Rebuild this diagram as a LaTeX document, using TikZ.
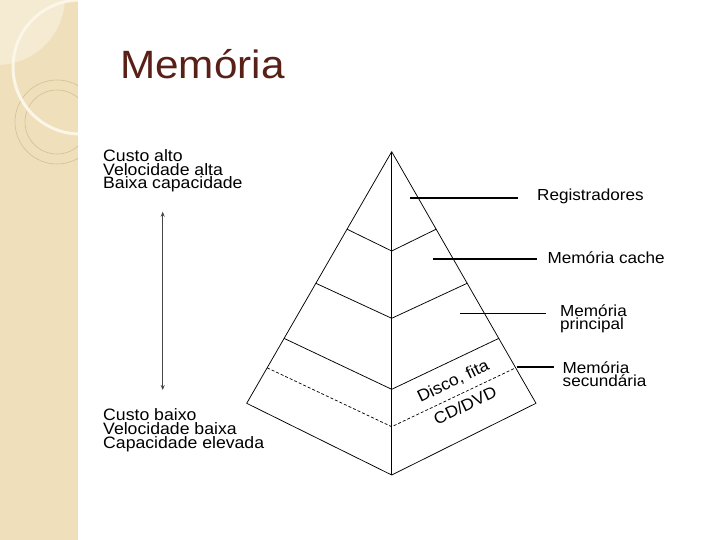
\documentclass[tikz,border=0pt]{standalone}
\usepackage{fontspec}
\setmainfont{Liberation Sans}[FakeStretch=1.07]
\usetikzlibrary{calc,arrows.meta}
\definecolor{stripbg}{RGB}{239,223,186}
\definecolor{stripli}{RGB}{245,234,210}
\definecolor{stripwh}{RGB}{251,246,232}
\definecolor{stripln}{RGB}{214,192,148}
\definecolor{titlec}{RGB}{88,32,22}
\definecolor{arrowc}{RGB}{70,70,70}
\tikzset{
  lbl/.style={inner sep=0pt, anchor=base west, font=\fontsize{16.5}{16.5}\selectfont},
  rlbl/.style={inner sep=0pt, anchor=base west, font=\fontsize{16}{16}\selectfont},
  ttl/.style={inner sep=0pt, anchor=base west, text=titlec, font=\fontsize{39.5}{39.5}\selectfont},
  slant/.style={inner sep=0pt, anchor=center, rotate=25.8, font=\fontsize{16.5}{16.5}\selectfont},
  pyr/.style={line width=0.75pt, line join=round},
  band/.style={line width=0.75pt},
  dband/.style={line width=0.7pt, dash pattern=on 3pt off 2pt},
  ptr/.style={line width=#1},
}
\begin{document}
\begin{tikzpicture}[x=1pt,y=-1pt]
\useasboundingbox (0,0) rectangle (720,540);
\fill[white] (0,0) rectangle (720,540);
% decorative strip
\begin{scope}
  \clip (0,0) rectangle (78,540);
  \fill[stripbg] (0,0) rectangle (78,540);
  \fill[stripli] (-3,-3) circle[radius=68];
  \draw[stripln, line width=0.6pt] (57,122) circle[radius=42];
  \draw[stripln, line width=0.6pt] (57,122) circle[radius=32];
  \draw[stripwh, line width=3pt] (80,67) circle[radius=67];
\end{scope}
% title
\node[ttl] (title) at (120,79) {Memória};
% left labels
\node[lbl] (l1) at (103,161.5) {Custo alto};
\node[lbl] (l2) at (103,175.3) {Velocidade alta};
\node[lbl] (l3) at (103,189) {Baixa capacidade};
\node[lbl] (l4) at (103,420.7) {Custo baixo};
\node[lbl] (l5) at (103,434.5) {Velocidade baixa};
\node[lbl] (l6) at (103,448.3) {Capacidade elevada};
\coordinate (atop) at (162.7,211.7);
\coordinate (abot) at (162.7,390);
\draw[arrowc, line width=1pt, {Stealth[length=5pt,width=4pt]}-{Stealth[length=5pt,width=4pt]}] (atop) -- (abot);
% pyramid
\coordinate (A) at (391.7,151.7);
\coordinate (L) at (246.7,403.3);
\coordinate (R) at (536,403.3);
\coordinate (B) at (391.7,475);
\draw[pyr] (A) -- (L) -- (B) -- (R) -- cycle;
\draw[band] (A) -- (B);
\draw[band] ($(A)!0.308!(L)$) -- (391.7,251) -- ($(A)!0.308!(R)$);
\draw[band] ($(A)!0.523!(L)$) -- (391.7,318.3) -- ($(A)!0.523!(R)$);
\draw[band] ($(A)!0.742!(L)$) -- (391.7,389.3) -- ($(A)!0.742!(R)$);
\draw[dband] ($(A)!0.859!(L)$) -- (391.7,426.7) -- ($(A)!0.859!(R)$);
\node[slant] (disco) at (453.3,381.5) {Disco, fita};
\node[slant] (cddvd) at (465,405.5) {CD/DVD};
% right labels
\node[rlbl] (reg) at (537,201) {Registradores};
\node[rlbl] (cache) at (547.5,263.5) {Memória cache};
\node[rlbl] (mp1) at (560,316.5) {Memória};
\node[rlbl] (mp2) at (560,329.2) {principal};
\node[rlbl] (ms1) at (562.5,373.5) {Memória};
\node[rlbl] (ms2) at (562.5,386.5) {secundária};
\coordinate (p1a) at (410,198.3);  \coordinate (p1b) at (518.3,198.3);
\coordinate (p2a) at (433.3,259);  \coordinate (p2b) at (536.7,259);
\coordinate (p3a) at (460,313.3);  \coordinate (p3b) at (545.7,313.3);
\coordinate (p4a) at (516.7,367.3);\coordinate (p4b) at (554,367.3);
\draw[ptr=2pt] (p1a) -- (p1b);
\draw[ptr=1.5pt] (p2a) -- (p2b);
\draw[ptr=1.3pt] (p3a) -- (p3b);
\draw[ptr=2pt] (p4a) -- (p4b);
\end{tikzpicture}
\end{document}
